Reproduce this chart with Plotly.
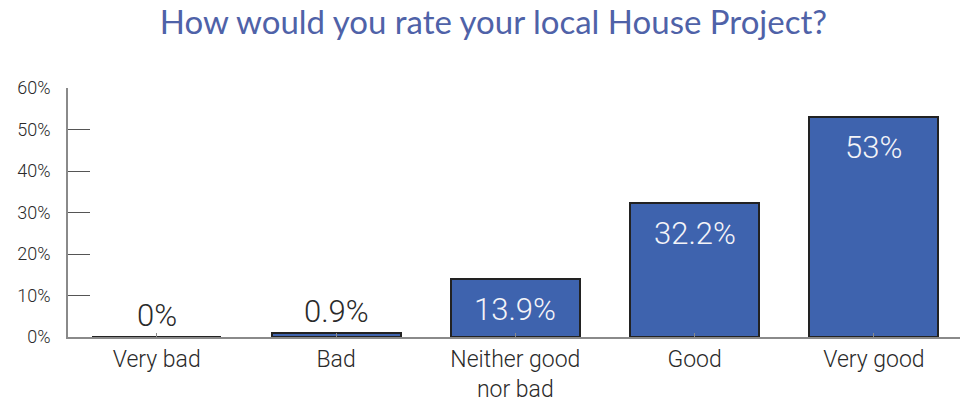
import plotly.graph_objects as go

# Survey responses: share of respondents per rating
categories = ["Very bad", "Bad", "Neither good<br>nor bad", "Good", "Very good"]
shares = [0, 0.9, 13.9, 32.2, 53]
y_ticks = [0, 10, 20, 30, 40, 50, 60]
y_tick_labels = [f"{t}%" for t in y_ticks]

BAR_BLUE = "#3e63ae"
TEXT_DARK = "#2a2a2a"
AXIS_GREY = "#8a8a8a"
LIGHT_FONT = dict(family="Roboto", weight=300)

fig = go.Figure(
    go.Bar(
        x=list(range(len(categories))),
        y=shares,
        width=0.72,
        marker=dict(color=BAR_BLUE, line=dict(color="#222222", width=2)),
        hoverinfo="skip",
    )
)

# Value labels: inside the top of tall bars, above short ones
for i, v in enumerate(shares):
    label = f"{v:g}%"
    if v >= 10:
        fig.add_annotation(
            x=i, y=v, text=label, showarrow=False, yanchor="middle", yshift=-30,
            font=dict(size=31, color="#f4f4f8", **LIGHT_FONT),
        )
    else:
        fig.add_annotation(
            x=i, y=v, text=label, showarrow=False, yanchor="bottom", yshift=1,
            font=dict(size=31, color=TEXT_DARK, **LIGHT_FONT),
        )

fig.update_layout(
    width=960,
    height=403,
    margin=dict(l=68, r=0, t=88, b=66),
    paper_bgcolor="white",
    plot_bgcolor="white",
    showlegend=False,
    bargap=0,
    title=dict(
        text="How would you rate your local House Project?",
        x=0.514, xanchor="center", y=0.945, yanchor="middle",
        font=dict(family="Lato", size=33, color="#4f62a8", weight=400),
    ),
    font=dict(color=TEXT_DARK, **LIGHT_FONT),
)

fig.update_xaxes(
    range=[-0.495, 4.48],
    tickmode="array",
    tickvals=list(range(len(categories))),
    ticktext=categories,
    tickfont=dict(size=23, color=TEXT_DARK, **LIGHT_FONT),
    ticklabelstandoff=1,
    automargin=False,
    tickson="boundaries",
    ticks="inside",
    ticklen=4,
    tickcolor=AXIS_GREY,
    showgrid=False,
    zeroline=False,
    showline=True,
    linecolor=AXIS_GREY,
    linewidth=1.5,
    fixedrange=True,
)

fig.update_yaxes(
    range=[0, 60],
    tickmode="array",
    tickvals=y_ticks,
    ticktext=y_tick_labels,
    tickfont=dict(size=18, color=TEXT_DARK, **LIGHT_FONT),
    ticks="inside",
    ticklen=22,
    tickwidth=1.2,
    tickcolor="#555555",
    ticklabelstandoff=12,
    showgrid=False,
    zeroline=False,
    showline=True,
    linecolor=AXIS_GREY,
    linewidth=1.5,
    fixedrange=True,
)

fig.write_html("out.html", config={"displayModeBar": False})
